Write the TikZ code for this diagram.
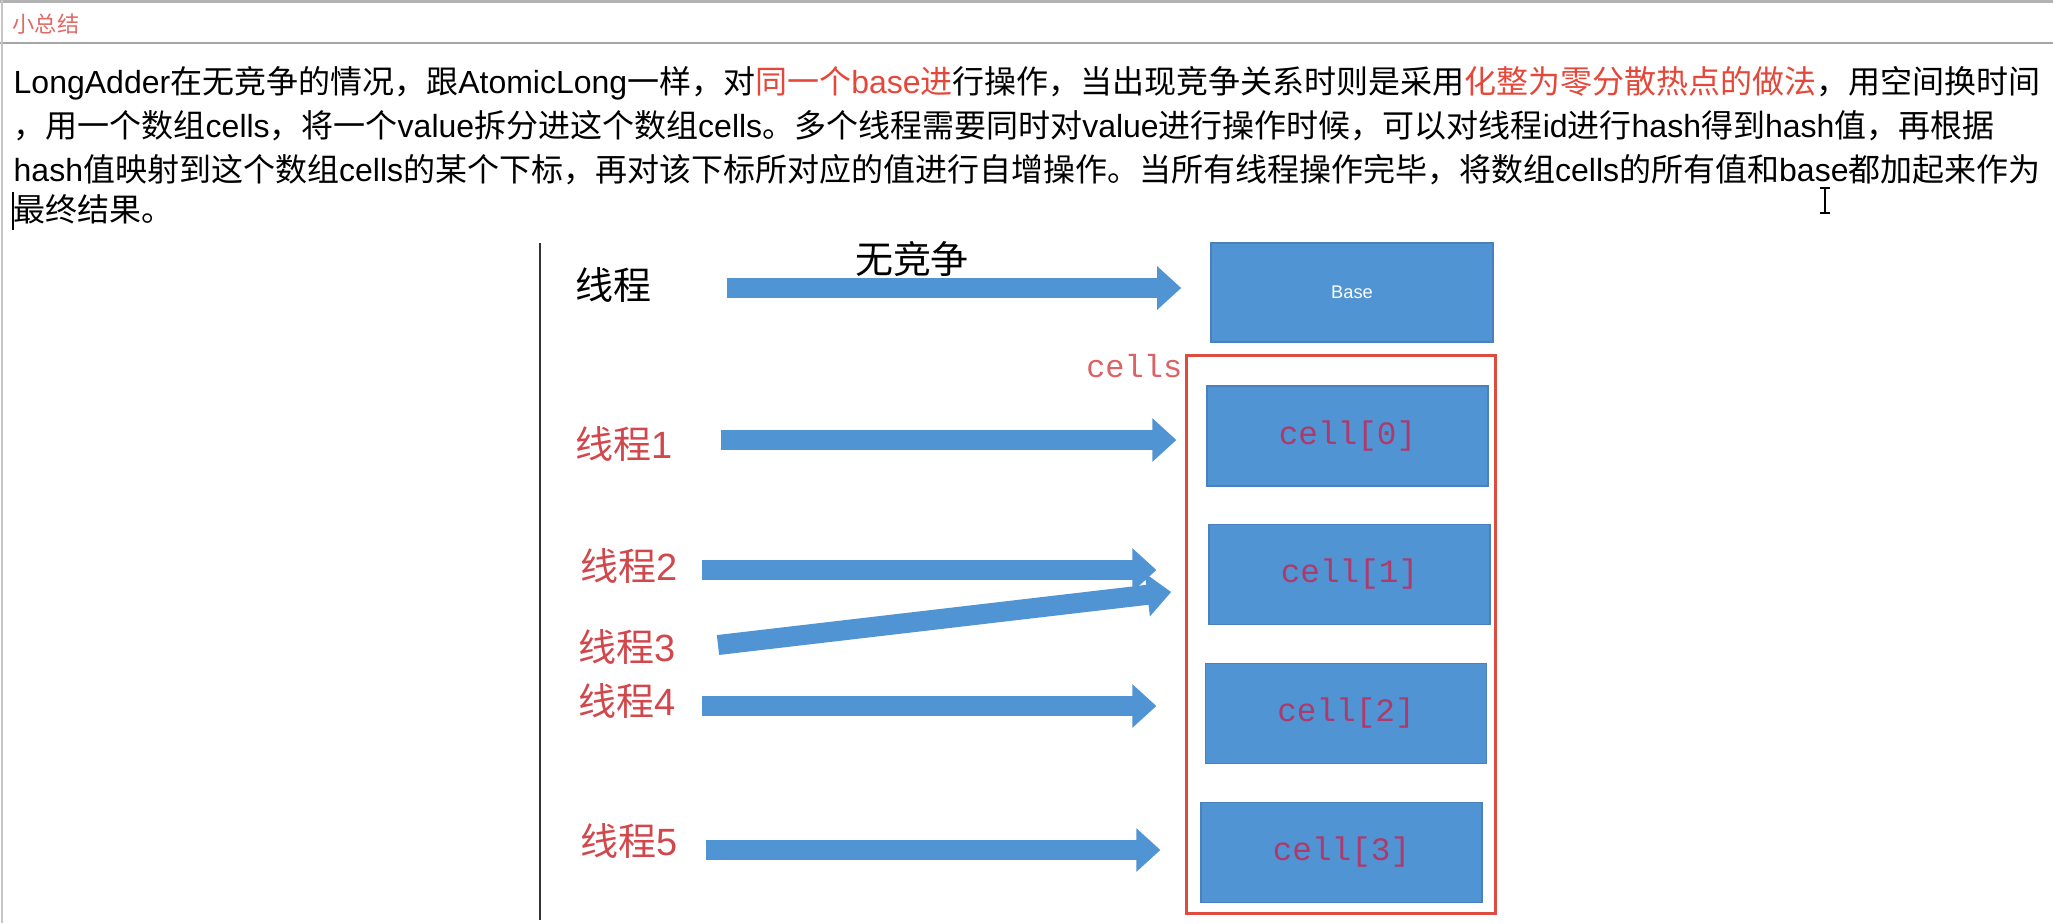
\documentclass[tikz,border=0pt]{standalone}
\usepackage{fontspec}
\setmainfont{Liberation Serif}
\setsansfont{Liberation Sans}
\setmonofont{Liberation Mono}
\newfontfamily\cjkfont{Noto Sans CJK SC}
\usetikzlibrary{arrows.meta,positioning,calc}
\definecolor{boxblue}{HTML}{5094D3}
\definecolor{boxedge}{HTML}{4A80BE}
\definecolor{hotred}{HTML}{E5483A}
\definecolor{headred}{HTML}{E06A66}
\definecolor{labred}{HTML}{D2474B}
\definecolor{cellred}{HTML}{AE3A6C}
\definecolor{rimred}{HTML}{DE4B3F}

% switch to the CJK font for Chinese characters and punctuation
\newXeTeXintercharclass\cjkclass
\makeatletter
\def\cjk@range#1#2{\count@=#1\relax
  \loop\XeTeXcharclass\count@=\cjkclass
  \ifnum\count@<#2\relax\advance\count@\@ne\repeat}
\cjk@range{"3000}{"303F}
\cjk@range{"4E00}{"9FFF}
\cjk@range{"FF00}{"FFEF}
\makeatother
\def\latinfont{\sffamily}
\XeTeXinterchartoks 0 \cjkclass={\cjkfont}
\XeTeXinterchartoks 4095 \cjkclass={\cjkfont}
\XeTeXinterchartoks \cjkclass 0={\latinfont}
\XeTeXinterchartoks \cjkclass 4095={\latinfont}

\begin{document}
\XeTeXinterchartokenstate=1
\begin{tikzpicture}[x=0.01cm, y=-0.01cm,
  bodytext/.style={anchor=base west, inner sep=0pt, font=\fontsize{9.1}{11}\sffamily},
  label/.style={anchor=west, inner sep=0pt, font=\fontsize{10.8}{13}\sffamily, text=labred},
  cellbox/.style={draw=boxedge, fill=boxblue, line width=0.4pt, minimum width=2.81cm, minimum height=1.0cm, inner sep=0pt, font=\fontsize{9.3}{11}\ttfamily, text=cellred},
  blockarrow/.style={draw=boxblue, line width=0.2cm, -{Triangle[length=0.24cm, width=0.42cm]}}
]
  \fill[white] (0,0) rectangle (2053,923);
  \useasboundingbox (0,0) rectangle (2053,923);

  % Page frame
  \draw[line width=0.03cm, gray!60] (0,1.5) -- (2053,1.5);
  \draw[line width=0.02cm, gray!70] (0,43) -- (2053,43);
  \draw[line width=0.015cm, gray!45] (2,0) -- (2,923);
  \node[anchor=west, inner sep=0pt, font=\fontsize{6.3}{8}\sffamily, text=headred] (title) at (12,24) {小总结};

  % Summary text
  \node[bodytext] (line1) at (13,93) {LongAdder在无竞争的情况，跟AtomicLong一样，对\textcolor{hotred}{同一个base进}行操作，当出现竞争关系时则是采用\textcolor{hotred}{化整为零分散热点的做法}，用空间换时间};
  \node[bodytext] (line2) at (13,137) {，用一个数组cells，将一个value拆分进这个数组cells。多个线程需要同时对value进行操作时候，可以对线程id进行hash得到hash值，再根据};
  \node[bodytext] (line3) at (13,181) {hash值映射到这个数组cells的某个下标，再对该下标所对应的值进行自增操作。当所有线程操作完毕，将数组cells的所有值和base都加起来作为};
  \node[bodytext] (line4) at (13,221) {最终结果。};
  \draw[line width=0.02cm] (13,192) -- (13,230);
  \draw[line width=0.015cm] (1820,188) -- (1830,188) (1825,188) -- (1825,213) (1820,213) -- (1830,213);

  % Picture frame line
  \draw[line width=0.02cm, black!80] (540,243) -- (540,920);

  % Threads
  \node[label, text=black] (t0) at (575,285) {线程};
  \node[label, text=black, anchor=center] (nocont) at (912,259) {无竞争};
  \node[label] (t1) at (575,444) {线程1};
  \node[label] (t2) at (580,566) {线程2};
  \node[label] (t3) at (578,647) {线程3};
  \node[label] (t4) at (578,701) {线程4};
  \node[label] (t5) at (580,841) {线程5};

  % Base and cells
  \node[cellbox, text=white, font=\fontsize{5.2}{6}\sffamily, minimum width=2.82cm, minimum height=0.99cm] (base) at (1352,292.5) {Base};
  \node[draw=rimred, line width=0.03cm, minimum width=3.08cm, minimum height=5.57cm, inner sep=0pt] (cellsbox) at (1341,634.5) {};
  \node[anchor=east, inner sep=0pt, font=\fontsize{9.1}{11}\ttfamily, text=labred!85] (cellsname) at (1183,366) {cells};
  \node[cellbox] (cell0) at (1347.5,436) {cell[0]};
  \node[cellbox] (cell1) at (1349.5,574.5) {cell[1]};
  \node[cellbox] (cell2) at (1346,713.5) {cell[2]};
  \node[cellbox] (cell3) at (1341.5,852.5) {cell[3]};

  % Arrows
  \coordinate (a0) at (727,288);
  \coordinate (a1) at (721,440);
  \coordinate (a2) at (702,570);
  \coordinate (a3) at (718,645);
  \coordinate (a4) at (702,706);
  \coordinate (a5) at (706,850);
  \draw[blockarrow] (a0) -- ($(a0 -| base.west)+(-29,0)$);
  \draw[blockarrow] (a1) -- ($(a1 -| cellsbox.west)+(-9,0)$);
  \draw[blockarrow] (a2) -- ($(a2 -| cellsbox.west)+(-29,0)$);
  \draw[blockarrow] (a3) -- ($(cell1.west)+(-37,17.5)$);
  \draw[blockarrow] (a4) -- ($(a4 -| cellsbox.west)+(-29,0)$);
  \draw[blockarrow] (a5) -- ($(a5 -| cellsbox.west)+(-25,0)$);
\end{tikzpicture}
\end{document}
